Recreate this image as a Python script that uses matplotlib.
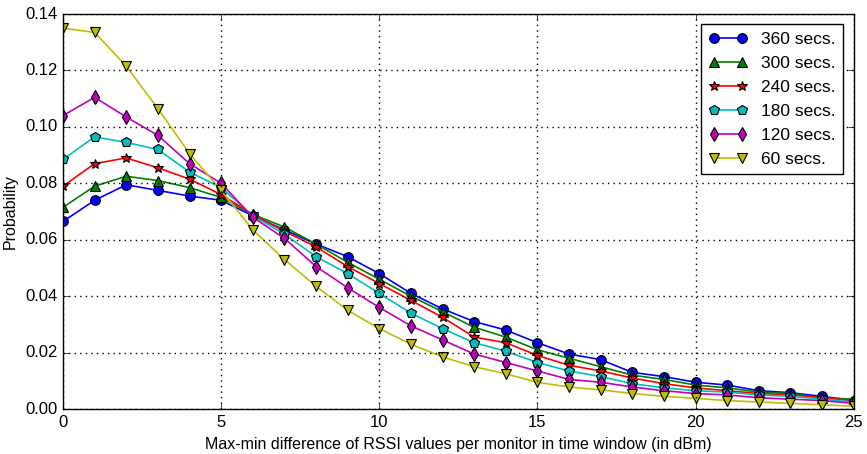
import matplotlib
matplotlib.use("Agg")
import matplotlib.pyplot as plt
import numpy as np

plt.style.use("classic")
plt.rcParams["font.family"] = ["Liberation Sans", "DejaVu Sans"]

# Donnees
diff = np.arange(26)
labels = ["360 secs.", "300 secs.", "240 secs.", "180 secs.", "120 secs.", "60 secs."]

p360 = [0.0665, 0.074, 0.0795, 0.0775, 0.0755, 0.074, 0.0685, 0.0635, 0.0585, 0.054,
        0.048, 0.041, 0.0355, 0.031, 0.028, 0.0235, 0.0195, 0.0175, 0.013, 0.0115,
        0.0095, 0.0085, 0.0065, 0.0058, 0.0045, 0.003]
p300 = [0.0715, 0.079, 0.0825, 0.081, 0.0785, 0.075, 0.069, 0.0645, 0.0585, 0.052,
        0.046, 0.040, 0.0345, 0.029, 0.0255, 0.021, 0.018, 0.015, 0.012, 0.0105,
        0.0085, 0.0075, 0.006, 0.0055, 0.004, 0.0035]
p240 = [0.079, 0.087, 0.089, 0.0855, 0.0815, 0.076, 0.069, 0.063, 0.0575, 0.0505,
        0.0445, 0.0385, 0.0325, 0.0255, 0.0235, 0.019, 0.0155, 0.0135, 0.011, 0.009,
        0.0075, 0.0065, 0.0055, 0.005, 0.004, 0.003]
p180 = [0.0885, 0.0965, 0.0945, 0.092, 0.084, 0.0785, 0.0685, 0.062, 0.054, 0.048,
        0.041, 0.034, 0.0285, 0.0235, 0.0205, 0.0165, 0.0135, 0.0115, 0.009, 0.0075,
        0.0065, 0.006, 0.005, 0.0045, 0.0035, 0.0025]
p120 = [0.104, 0.1105, 0.1035, 0.097, 0.087, 0.080, 0.068, 0.0605, 0.0505, 0.043,
        0.036, 0.0295, 0.0245, 0.0195, 0.0165, 0.0135, 0.0105, 0.0095, 0.0078, 0.0065,
        0.0055, 0.005, 0.004, 0.0035, 0.003, 0.002]
p60 = [0.135, 0.1335, 0.1215, 0.1065, 0.0905, 0.0775, 0.0635, 0.053, 0.0435, 0.035,
       0.0285, 0.023, 0.0185, 0.015, 0.0125, 0.0095, 0.0078, 0.0068, 0.0055, 0.0045,
       0.0038, 0.003, 0.0025, 0.002, 0.0015, 0.001]

series = [p360, p300, p240, p180, p120, p60]
couleurs = ["b", "g", "r", "c", "m", "y"]
marqueurs = ["o", "^", "*", "p", "d", "v"]

fig = plt.figure(figsize=(8.67, 4.54), dpi=100)
ax = fig.add_axes([0.0727, 0.099, 0.912, 0.870])

for vals, c, m, lab in zip(series, couleurs, marqueurs, labels):
    ax.plot(diff, vals, color=c, marker=m, markersize=7, linewidth=1.2,
            markeredgecolor="k", markeredgewidth=0.8, label=lab)

ax.set_xlim(0, 25)
ax.set_ylim(0, 0.14)
ax.set_xticks(np.arange(0, 26, 5))
ax.set_yticks(np.arange(0, 0.141, 0.02))
ax.yaxis.set_major_formatter(plt.FormatStrFormatter("%.2f"))
ax.grid(True, linestyle=":", color="k", linewidth=1)
ax.tick_params(labelsize=12)
ax.set_xlabel("Max-min difference of RSSI values per monitor in time window (in dBm)", fontsize=11.5)
ax.set_ylabel("Probability", fontsize=11.5)
ax.legend(loc="upper right", fontsize=12.5, numpoints=2, handlelength=2.2,
          borderpad=0.45, labelspacing=0.5, borderaxespad=0.6)

fig.savefig("out.png", dpi=100)
